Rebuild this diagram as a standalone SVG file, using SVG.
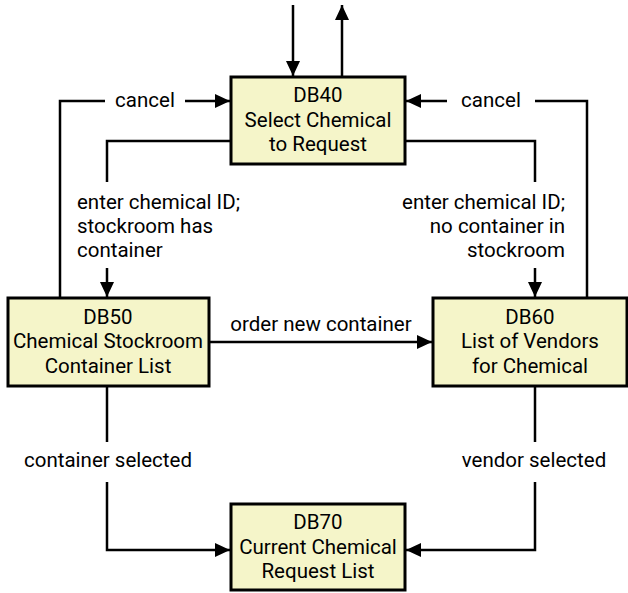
<svg xmlns="http://www.w3.org/2000/svg" width="628" height="593" viewBox="0 0 628 593">
<defs>
<marker id="ah" markerWidth="15" markerHeight="15" viewBox="0 0 15 14" refX="15" refY="7" orient="auto" markerUnits="userSpaceOnUse">
<path d="M0,0 L15,7 L0,14 Z" fill="#000"/>
</marker>
</defs>
<style>
.box{fill:#f5f5c9;stroke:#000;stroke-width:3}
.t{font-family:Roboto,"Open Sans","Noto Sans",sans-serif;font-size:20.5px;fill:#000;text-anchor:middle}
.l{font-family:Roboto,"Open Sans","Noto Sans",sans-serif;font-size:20.5px;fill:#000}
.c{fill:none;stroke:#000;stroke-width:2.5}
</style>
<rect width="628" height="593" fill="#fff"/>
<g id="connectors">
<path class="c" d="M293,5 V76" marker-end="url(#ah)"/>
<path class="c" d="M342,76 V5" marker-end="url(#ah)"/>
<path class="c" d="M60,298 V101 H105"/>
<path class="c" d="M185,101 H230" marker-end="url(#ah)"/>
<path class="c" d="M587,298 V101 H535"/>
<path class="c" d="M447,101 H406" marker-end="url(#ah)"/>
<path class="c" d="M231,141 H107 V182"/>
<path class="c" d="M107,268 V297" marker-end="url(#ah)"/>
<path class="c" d="M405,141 H535 V182"/>
<path class="c" d="M535,268 V297" marker-end="url(#ah)"/>
<path class="c" d="M209,342 H432" marker-end="url(#ah)"/>
<path class="c" d="M107,386 V442"/>
<path class="c" d="M107,482 V550 H230" marker-end="url(#ah)"/>
<path class="c" d="M535,386 V442"/>
<path class="c" d="M535,482 V550 H406" marker-end="url(#ah)"/>
<text class="l" x="145" y="107" text-anchor="middle">cancel</text>
<text class="l" x="491" y="107" text-anchor="middle">cancel</text>
<text class="l" x="77" y="209">enter chemical ID;</text>
<text class="l" x="77" y="233">stockroom has</text>
<text class="l" x="77" y="257">container</text>
<text class="l" x="565" y="209" text-anchor="end">enter chemical ID;</text>
<text class="l" x="565" y="233" text-anchor="end">no container in</text>
<text class="l" x="565" y="257" text-anchor="end">stockroom</text>
<text class="l" x="321" y="331" text-anchor="middle">order new container</text>
<text class="l" x="108" y="467" text-anchor="middle">container selected</text>
<text class="l" x="534" y="467" text-anchor="middle">vendor selected</text>
</g>
<g id="DB40">
<rect class="box" x="231" y="77" width="174" height="87"/>
<text class="t" x="318" y="102">DB40</text>
<text class="t" x="318" y="127">Select Chemical</text>
<text class="t" x="318" y="151">to Request</text>
</g>
<g id="DB50">
<rect class="box" x="8" y="298" width="201" height="88"/>
<text class="t" x="108" y="324">DB50</text>
<text class="t" x="108" y="348">Chemical Stockroom</text>
<text class="t" x="108" y="373">Container List</text>
</g>
<g id="DB60">
<rect class="box" x="433" y="298" width="194" height="88"/>
<text class="t" x="530" y="324">DB60</text>
<text class="t" x="530" y="348">List of Vendors</text>
<text class="t" x="530" y="373">for Chemical</text>
</g>
<g id="DB70">
<rect class="box" x="231" y="504" width="174" height="86"/>
<text class="t" x="318" y="529">DB70</text>
<text class="t" x="318" y="554">Current Chemical</text>
<text class="t" x="318" y="578">Request List</text>
</g>
</svg>
